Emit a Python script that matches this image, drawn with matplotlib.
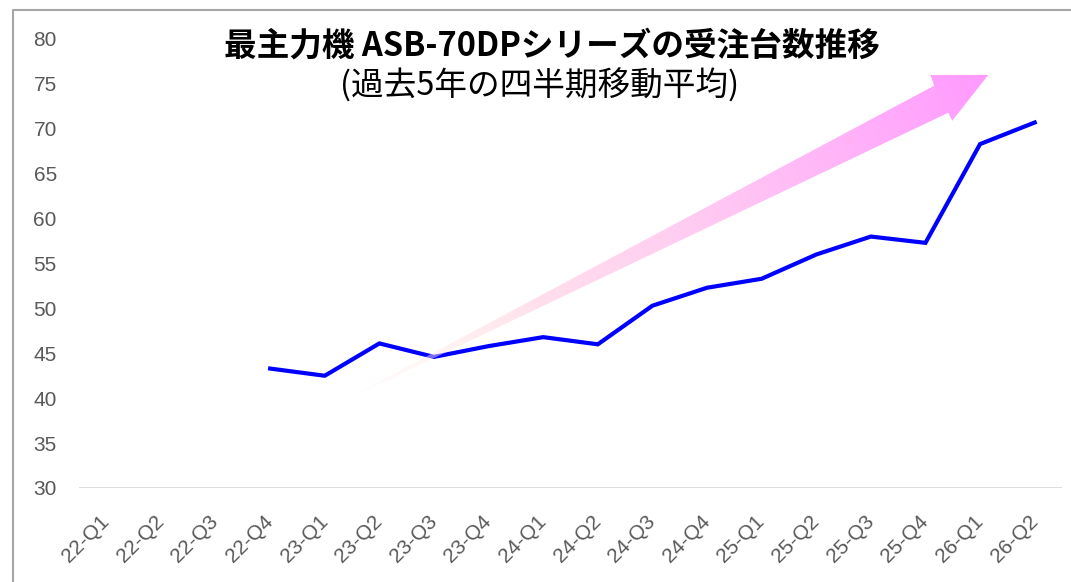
import numpy as np
import matplotlib
matplotlib.use("Agg")
import matplotlib.pyplot as plt
from matplotlib.patches import Polygon
from matplotlib.lines import Line2D

plt.rcParams['font.family'] = ['Noto Sans CJK JP', 'DejaVu Sans']

# quarterly moving average of orders (first three quarters have no value)
quarters = ["22-Q1", "22-Q2", "22-Q3", "22-Q4",
            "23-Q1", "23-Q2", "23-Q3", "23-Q4",
            "24-Q1", "24-Q2", "24-Q3", "24-Q4",
            "25-Q1", "25-Q2", "25-Q3", "25-Q4",
            "26-Q1", "26-Q2"]
orders = [np.nan, np.nan, np.nan, 43.3,
          42.5, 46.1, 44.6, 45.8,
          46.8, 46.0, 50.3, 52.3,
          53.3, 56.0, 58.0, 57.3,
          68.3, 70.7]
y_ticks = [30, 35, 40, 45, 50, 55, 60, 65, 70, 75, 80]

title = "最主力機 ASB-70DPシリーズの受注台数推移"
subtitle = "(過去5年の四半期移動平均)"

# trend arrow outline in data units (x = quarter index, y = value)
arrow_tail = (4.18, 39.2)
arrow_shaft_top = (15.16, 74.8)
arrow_barb_top = (15.09, 76.0)
arrow_tip = (16.15, 76.0)
arrow_barb_low = (15.49, 70.9)
arrow_shaft_low = (15.42, 71.8)

W, H = 1071, 582
fig = plt.figure(figsize=(W / 100, H / 100), dpi=100)
ax = fig.add_axes([79 / W, 1 - 488 / H, (1062 - 79) / W, (488 - 39) / H])

x = np.arange(len(quarters))
ax.plot(x, orders, color="#0000ff", lw=3.0, solid_joinstyle="miter", zorder=3)

ax.set_xlim(-0.5, len(quarters) - 0.5)
ax.set_ylim(30, 80)
ax.set_yticks(y_ticks)
ax.set_xticks(x)
ax.set_xticklabels(quarters, rotation=45, ha="right", va="center", rotation_mode="anchor")
for s in ax.spines.values():
    s.set_visible(False)
ax.axhline(30, color="#d9d9d9", lw=1.2, zorder=1)
ax.tick_params(axis="y", length=0, pad=16, labelsize=15, labelcolor="#595959")
ax.tick_params(axis="x", length=0, pad=22, labelsize=15, labelcolor="#595959")
for lbl in ax.get_xticklabels() + ax.get_yticklabels():
    lbl.set_family(["Liberation Sans", "DejaVu Sans"])

fig.text(552 / W, 1 - 46 / H, title, ha="center", va="center",
         fontsize=23.5, fontweight="bold", color="black")
fig.text(540 / W, 1 - 86 / H, subtitle, ha="center", va="center",
         fontsize=23.5, color="black")

# outer frame (only top and left edges are visible in the crop)
fig.add_artist(Line2D([13 / W, 13 / W, 1.0], [0.0, 1 - 10 / H, 1 - 10 / H],
                      transform=fig.transFigure, color="#a6a6a6", lw=1.5))

# gradient arrow drawn on a pixel overlay on top of the line
ov = fig.add_axes([0, 0, 1, 1], zorder=5)
ov.set_xlim(0, W)
ov.set_ylim(H, 0)
ov.axis("off")
ov.patch.set_alpha(0)


def to_px(pt):
    dx, dy = ax.transData.transform(pt)
    return dx, H - dy


pts = [to_px(p) for p in [arrow_tail, arrow_shaft_low, arrow_barb_low, arrow_tip,
                          arrow_barb_top, arrow_shaft_top]]
shape = Polygon(pts, closed=True, facecolor="none", edgecolor="none", transform=ov.transData)
ov.add_patch(shape)

tx, ty = pts[0]
hx, hy = pts[3]
gx, gy = np.meshgrid(np.arange(0, W) + 0.5, np.arange(0, H) + 0.5)
t = ((gx - tx) * (hx - tx) + (gy - ty) * (hy - ty)) / ((hx - tx) ** 2 + (hy - ty) ** 2)
t = np.clip(t, 0, 1)
img = np.zeros((H, W, 4))
img[..., 0] = 1.0
img[..., 1] = 0.93 - 0.33 * t ** 1.5
img[..., 2] = 0.90 + 0.10 * t ** 1.2
img[..., 3] = np.clip(t / 0.32, 0, 1)
im = ov.imshow(img, extent=(0, W, H, 0), interpolation="bilinear", zorder=5)
im.set_clip_path(shape)
ov.set_xlim(0, W)
ov.set_ylim(H, 0)

fig.savefig("out.png", dpi=100)
